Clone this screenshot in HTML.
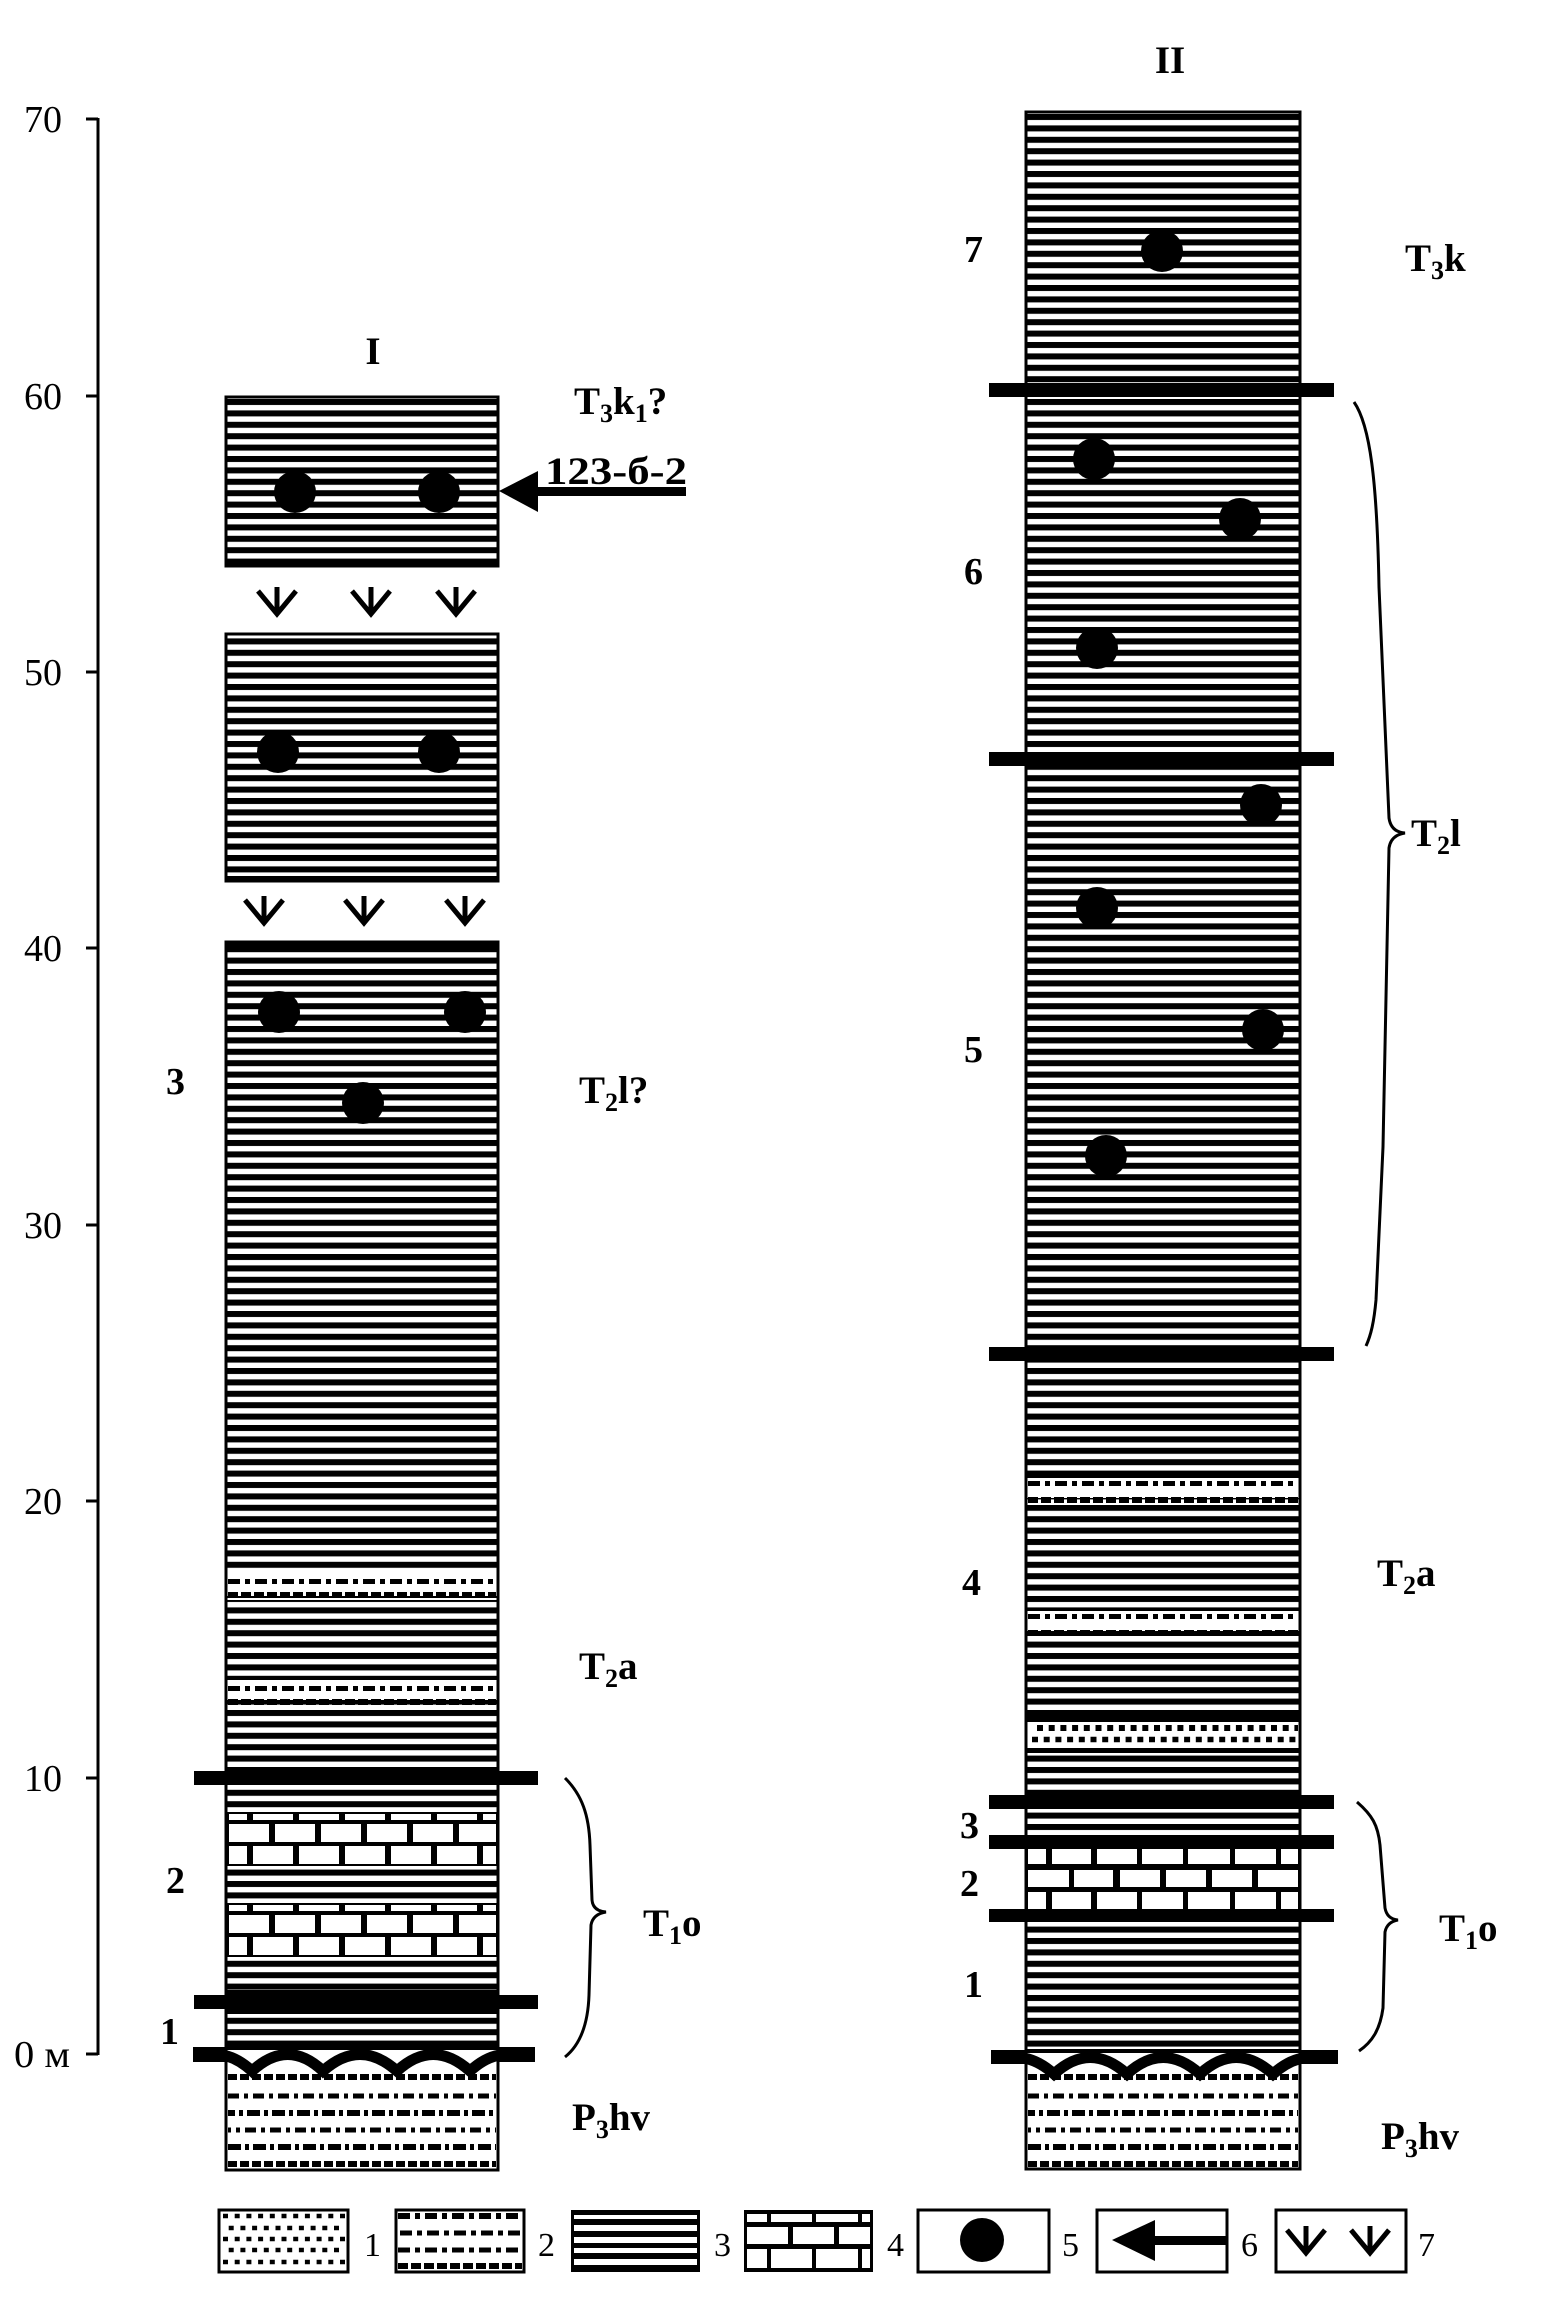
<!DOCTYPE html>
<html><head><meta charset="utf-8"><style>
html,body{margin:0;padding:0;background:#fff}
svg{display:block}
.ax{font-family:"Liberation Serif",serif;font-size:38px;fill:#000}
.b{font-family:"Liberation Serif",serif;font-weight:bold;font-size:39px;fill:#000}
.n{font-family:"Liberation Serif",serif;font-weight:bold;font-size:38px;fill:#000}
.lg{font-family:"Liberation Serif",serif;font-size:34px;fill:#000}
</style></head><body>
<svg width="1547" height="2309" viewBox="0 0 1547 2309" xmlns="http://www.w3.org/2000/svg">
<defs>
<pattern id="hat" patternUnits="userSpaceOnUse" width="40" height="11.4"><rect width="40" height="6" fill="#000"/></pattern>
<clipPath id="c1"><rect x="226" y="2040" width="272" height="45"/></clipPath>
<clipPath id="c2"><rect x="1026" y="2043" width="274" height="45"/></clipPath>
<g id="vv" fill="none" stroke="#000" stroke-width="5" stroke-linejoin="miter">
<polyline points="-19,-11 0,12 19,-11"/><line x1="0" y1="-15" x2="0" y2="12"/></g>
</defs>

<!-- axis -->
<g stroke="#000" stroke-width="3">
<line x1="98" y1="118" x2="98" y2="2055"/>
<line x1="86" y1="119" x2="98" y2="119"/>
<line x1="86" y1="396" x2="98" y2="396"/>
<line x1="86" y1="672" x2="98" y2="672"/>
<line x1="86" y1="948" x2="98" y2="948"/>
<line x1="86" y1="1225" x2="98" y2="1225"/>
<line x1="86" y1="1501" x2="98" y2="1501"/>
<line x1="86" y1="1778" x2="98" y2="1778"/>
<line x1="86" y1="2054" x2="98" y2="2054"/>
</g>
<g class="ax" text-anchor="end">
<text x="62" y="132">70</text>
<text x="62" y="409">60</text>
<text x="62" y="685">50</text>
<text x="62" y="961">40</text>
<text x="62" y="1238">30</text>
<text x="62" y="1514">20</text>
<text x="62" y="1791">10</text>
</g>
<text class="ax" x="14" y="2067" textLength="56" lengthAdjust="spacingAndGlyphs">0 м</text>

<!-- ================= COLUMN I ================= -->
<rect x="226" y="397" width="272" height="169" fill="#fff"/>
<rect x="226" y="397" width="272" height="169" fill="url(#hat)"/>
<rect x="226" y="561" width="272" height="5" fill="#000"/>
<rect x="226" y="397" width="272" height="169" fill="none" stroke="#000" stroke-width="3"/>
<circle cx="295" cy="492" r="21"/><circle cx="439" cy="492" r="21"/>
<use href="#vv" x="277" y="602"/><use href="#vv" x="371" y="602"/><use href="#vv" x="456" y="602"/>
<rect x="226" y="634" width="272" height="247" fill="#fff"/>
<rect x="226" y="634" width="272" height="247" fill="url(#hat)"/>
<rect x="226" y="876" width="272" height="5" fill="#000"/>
<rect x="226" y="634" width="272" height="247" fill="none" stroke="#000" stroke-width="3"/>
<circle cx="278" cy="752" r="21"/><circle cx="439" cy="752" r="21"/>
<use href="#vv" x="264" y="911"/><use href="#vv" x="364" y="911"/><use href="#vv" x="465" y="911"/>
<rect x="226" y="942" width="272" height="1228" fill="#fff"/>
<rect x="226" y="942" width="272" height="1105" fill="url(#hat)"/>
<rect x="226" y="942" width="272" height="7" fill="#000"/>
<g>
<rect x="227" y="1573" width="270" height="20" fill="#fff"/>
<line x1="228" y1="1581.5" x2="496" y2="1581.5" stroke="#000" stroke-width="5" stroke-dasharray="12 5 5 5"/>
<line x1="228" y1="1595" x2="496" y2="1595" stroke="#000" stroke-width="6" stroke-dasharray="10 3"/>
<rect x="227" y="1598" width="270" height="2" fill="#fff"/>
<rect x="227" y="1680" width="270" height="20" fill="#fff"/>
<line x1="228" y1="1688.5" x2="496" y2="1688.5" stroke="#000" stroke-width="5" stroke-dasharray="12 5 5 5"/>
<line x1="228" y1="1702" x2="496" y2="1702" stroke="#000" stroke-width="6" stroke-dasharray="10 3"/>
<rect x="227" y="1705" width="270" height="2" fill="#fff"/>
</g>
<rect x="226" y="1812" width="272" height="54" fill="#000"/>
<g fill="#fff">
<rect x="229" y="1814" width="18" height="6"/><rect x="253" y="1814" width="40" height="6"/><rect x="299" y="1814" width="40" height="6"/><rect x="345" y="1814" width="40" height="6"/><rect x="391" y="1814" width="40" height="6"/><rect x="437" y="1814" width="40" height="6"/><rect x="483" y="1814" width="13" height="6"/>
<rect x="229" y="1824" width="40" height="18"/><rect x="275" y="1824" width="40" height="18"/><rect x="321" y="1824" width="40" height="18"/><rect x="367" y="1824" width="40" height="18"/><rect x="413" y="1824" width="40" height="18"/><rect x="459" y="1824" width="37" height="18"/>
<rect x="229" y="1846" width="18" height="18"/><rect x="253" y="1846" width="40" height="18"/><rect x="299" y="1846" width="40" height="18"/><rect x="345" y="1846" width="40" height="18"/><rect x="391" y="1846" width="40" height="18"/><rect x="437" y="1846" width="40" height="18"/><rect x="483" y="1846" width="13" height="18"/>
</g>
<rect x="226" y="1903" width="272" height="54" fill="#000"/>
<g fill="#fff">
<rect x="229" y="1905" width="18" height="6"/><rect x="253" y="1905" width="40" height="6"/><rect x="299" y="1905" width="40" height="6"/><rect x="345" y="1905" width="40" height="6"/><rect x="391" y="1905" width="40" height="6"/><rect x="437" y="1905" width="40" height="6"/><rect x="483" y="1905" width="13" height="6"/>
<rect x="229" y="1915" width="40" height="18"/><rect x="275" y="1915" width="40" height="18"/><rect x="321" y="1915" width="40" height="18"/><rect x="367" y="1915" width="40" height="18"/><rect x="413" y="1915" width="40" height="18"/><rect x="459" y="1915" width="37" height="18"/>
<rect x="229" y="1937" width="18" height="18"/><rect x="253" y="1937" width="40" height="18"/><rect x="299" y="1937" width="40" height="18"/><rect x="345" y="1937" width="40" height="18"/><rect x="391" y="1937" width="40" height="18"/><rect x="437" y="1937" width="40" height="18"/><rect x="483" y="1937" width="13" height="18"/>
</g>
<rect x="226" y="1990" width="272" height="24" fill="#000"/>
<rect x="194" y="1771" width="344" height="14" fill="#000"/>
<rect x="194" y="1995" width="344" height="14" fill="#000"/>
<rect x="227" y="2049" width="270" height="120" fill="#fff"/>
<g stroke="#000" fill="none">
<line x1="228" y1="2077" x2="496" y2="2077" stroke-width="6" stroke-dasharray="9 3"/>
<line x1="228" y1="2096" x2="496" y2="2096" stroke-width="5" stroke-dasharray="11 5 4 5"/>
<line x1="228" y1="2113" x2="496" y2="2113" stroke-width="6" stroke-dasharray="13 4 4 4" stroke-dashoffset="6"/>
<line x1="228" y1="2130" x2="496" y2="2130" stroke-width="5" stroke-dasharray="11 5 4 5" stroke-dashoffset="8"/>
<line x1="228" y1="2147" x2="496" y2="2147" stroke-width="6" stroke-dasharray="13 4 4 4"/>
<line x1="228" y1="2164" x2="496" y2="2164" stroke-width="6" stroke-dasharray="9 3"/>
</g>
<rect x="226" y="2046" width="272" height="4" fill="#000"/>
<path d="M180 2071 Q216 2038 252 2071 Q288 2038 323 2071 Q360 2038 397 2071 Q433 2038 470 2071 Q506 2038 542 2071" fill="none" stroke="#000" stroke-width="11" clip-path="url(#c1)"/>
<rect x="193" y="2047" width="33" height="15" fill="#000"/>
<rect x="498" y="2047" width="37" height="15" fill="#000"/>
<rect x="226" y="942" width="272" height="1228" fill="none" stroke="#000" stroke-width="3"/>
<circle cx="279" cy="1012" r="21"/><circle cx="465" cy="1012" r="21"/><circle cx="363" cy="1103" r="21"/>

<rect x="536" y="487" width="150" height="9" fill="#000"/>
<polygon points="499,491 538,471 538,512" fill="#000"/>

<text class="b" x="373" y="364" text-anchor="middle">I</text>
<text class="b" x="574" y="414">T<tspan font-size="26" dy="8">3</tspan><tspan dy="-8">k</tspan><tspan font-size="26" dy="8">1</tspan><tspan dy="-8">?</tspan></text>
<text class="b" x="545" y="484" textLength="142" lengthAdjust="spacingAndGlyphs">123-б-2</text>
<text class="n" x="166" y="1094">3</text>
<text class="b" x="579" y="1103">T<tspan font-size="26" dy="8">2</tspan><tspan dy="-8">l?</tspan></text>
<text class="b" x="579" y="1679">T<tspan font-size="26" dy="8">2</tspan><tspan dy="-8">a</tspan></text>
<text class="n" x="166" y="1893">2</text>
<text class="b" x="643" y="1936">T<tspan font-size="26" dy="8">1</tspan><tspan dy="-8">o</tspan></text>
<text class="n" x="160" y="2044">1</text>
<text class="b" x="572" y="2130">P<tspan font-size="26" dy="8">3</tspan><tspan dy="-8">hv</tspan></text>
<path d="M565 1778 C582 1795 589 1815 590 1845 L592 1900 Q593 1911 606 1912 Q593 1914 591 1925 L589 1995 C588 2025 580 2045 565 2057" fill="none" stroke="#000" stroke-width="3"/>

<!-- ================= COLUMN II ================= -->
<rect x="1026" y="112" width="274" height="2057" fill="#fff"/>
<rect x="1026" y="112" width="274" height="1938" fill="url(#hat)"/>
<rect x="1027" y="1476" width="272" height="22" fill="#fff"/>
<rect x="1027" y="1476" width="272" height="2" fill="#000"/>
<line x1="1028" y1="1483.5" x2="1298" y2="1483.5" stroke="#000" stroke-width="5" stroke-dasharray="12 5 5 5"/>
<line x1="1028" y1="1500" x2="1298" y2="1500" stroke="#000" stroke-width="6" stroke-dasharray="10 3"/>
<rect x="1027" y="1503" width="272" height="2" fill="#fff"/>
<rect x="1027" y="1609" width="272" height="22" fill="#fff"/>
<rect x="1027" y="1609" width="272" height="2" fill="#000"/>
<line x1="1028" y1="1616.5" x2="1298" y2="1616.5" stroke="#000" stroke-width="5" stroke-dasharray="12 5 5 5"/>
<line x1="1028" y1="1633" x2="1298" y2="1633" stroke="#000" stroke-width="6" stroke-dasharray="10 3"/>
<rect x="1027" y="1636" width="272" height="2" fill="#fff"/>
<rect x="1026" y="1715" width="274" height="7" fill="#000"/>
<rect x="1027" y="1722" width="272" height="26" fill="#fff"/>
<rect x="1026" y="1748" width="274" height="5" fill="#000"/>
<line x1="1037" y1="1728" x2="1298" y2="1728" stroke="#000" stroke-width="6" stroke-dasharray="6 5.7"/>
<line x1="1032" y1="1739.5" x2="1298" y2="1739.5" stroke="#000" stroke-width="5.5" stroke-dasharray="6 5.7"/>
<rect x="1026" y="1849" width="274" height="60" fill="#000"/>
<g fill="#fff">
<rect x="1028" y="1849" width="18" height="15"/><rect x="1052" y="1849" width="39" height="15"/><rect x="1097" y="1849" width="40" height="15"/><rect x="1142" y="1849" width="41" height="15"/><rect x="1188" y="1849" width="42" height="15"/><rect x="1235" y="1849" width="41" height="15"/><rect x="1281" y="1849" width="17" height="15"/>
<rect x="1028" y="1870" width="41" height="17"/><rect x="1074" y="1870" width="39" height="17"/><rect x="1120" y="1870" width="40" height="17"/><rect x="1166" y="1870" width="40" height="17"/><rect x="1212" y="1870" width="40" height="17"/><rect x="1258" y="1870" width="40" height="17"/>
<rect x="1028" y="1892" width="18" height="17"/><rect x="1052" y="1892" width="39" height="17"/><rect x="1097" y="1892" width="40" height="17"/><rect x="1142" y="1892" width="41" height="17"/><rect x="1188" y="1892" width="42" height="17"/><rect x="1235" y="1892" width="41" height="17"/><rect x="1281" y="1892" width="17" height="17"/>
</g>
<g fill="#000">
<rect x="989" y="383" width="345" height="14"/>
<rect x="989" y="752" width="345" height="14"/>
<rect x="989" y="1347" width="345" height="14"/>
<rect x="989" y="1795" width="345" height="14"/>
<rect x="989" y="1835" width="345" height="14"/>
<rect x="989" y="1909" width="345" height="13"/>
</g>
<rect x="1027" y="2052" width="272" height="117" fill="#fff"/>
<g stroke="#000" fill="none">
<line x1="1028" y1="2077" x2="1298" y2="2077" stroke-width="6" stroke-dasharray="9 3"/>
<line x1="1028" y1="2096" x2="1298" y2="2096" stroke-width="5" stroke-dasharray="11 5 4 5"/>
<line x1="1028" y1="2113" x2="1298" y2="2113" stroke-width="6" stroke-dasharray="13 4 4 4" stroke-dashoffset="6"/>
<line x1="1028" y1="2130" x2="1298" y2="2130" stroke-width="5" stroke-dasharray="11 5 4 5" stroke-dashoffset="8"/>
<line x1="1028" y1="2147" x2="1298" y2="2147" stroke-width="6" stroke-dasharray="13 4 4 4"/>
<line x1="1028" y1="2164" x2="1298" y2="2164" stroke-width="6" stroke-dasharray="9 3"/>
</g>
<rect x="1026" y="2049" width="274" height="4" fill="#000"/>
<path d="M981 2074 Q1017 2041 1054 2074 Q1090 2041 1127 2074 Q1163 2041 1200 2074 Q1236 2041 1273 2074 Q1310 2041 1346 2074" fill="none" stroke="#000" stroke-width="11" clip-path="url(#c2)"/>
<rect x="991" y="2050" width="35" height="14" fill="#000"/>
<rect x="1300" y="2050" width="38" height="14" fill="#000"/>
<rect x="1026" y="112" width="274" height="2057" fill="none" stroke="#000" stroke-width="3"/>
<circle cx="1162" cy="251" r="21"/><circle cx="1094" cy="459" r="21"/><circle cx="1240" cy="519" r="21"/>
<circle cx="1097" cy="648" r="21"/><circle cx="1261" cy="805" r="21"/><circle cx="1097" cy="908" r="21"/>
<circle cx="1263" cy="1030" r="21"/><circle cx="1106" cy="1156" r="21"/>

<text class="b" x="1170" y="73" text-anchor="middle">II</text>
<text class="n" x="964" y="262">7</text>
<text class="b" x="1405" y="271">T<tspan font-size="26" dy="8">3</tspan><tspan dy="-8">k</tspan></text>
<text class="n" x="964" y="584">6</text>
<text class="b" x="1411" y="846">T<tspan font-size="26" dy="8">2</tspan><tspan dy="-8">l</tspan></text>
<text class="n" x="964" y="1062">5</text>
<text class="n" x="962" y="1595">4</text>
<text class="b" x="1377" y="1586">T<tspan font-size="26" dy="8">2</tspan><tspan dy="-8">a</tspan></text>
<text class="n" x="960" y="1838">3</text>
<text class="n" x="960" y="1896">2</text>
<text class="n" x="964" y="1997">1</text>
<text class="b" x="1439" y="1941">T<tspan font-size="26" dy="8">1</tspan><tspan dy="-8">o</tspan></text>
<text class="b" x="1381" y="2149">P<tspan font-size="26" dy="8">3</tspan><tspan dy="-8">hv</tspan></text>
<path d="M1354 402 C1370 425 1377 480 1379 587 L1389 818 Q1391 832 1405 833 Q1391 835 1389 848 L1383 1147 L1376 1300 C1374 1322 1371 1335 1366 1346" fill="none" stroke="#000" stroke-width="3"/>
<path d="M1357 1802 C1372 1815 1378 1825 1380 1845 L1385 1908 Q1387 1919 1398 1920 Q1387 1922 1385 1932 L1383 2008 C1380 2030 1372 2042 1359 2051" fill="none" stroke="#000" stroke-width="3"/>

<!-- ================= LEGEND ================= -->
<rect x="219" y="2210" width="129" height="62" fill="#fff"/>
<g stroke="#000" stroke-width="4.5">
<line x1="223" y1="2216" x2="345" y2="2216" stroke-dasharray="5 6.7"/>
<line x1="223" y1="2228" x2="345" y2="2228" stroke-dasharray="5 6.7" stroke-dashoffset="6"/>
<line x1="223" y1="2239" x2="345" y2="2239" stroke-dasharray="5 6.7"/>
<line x1="223" y1="2250" x2="345" y2="2250" stroke-dasharray="5 6.7" stroke-dashoffset="6"/>
<line x1="223" y1="2262" x2="345" y2="2262" stroke-dasharray="5 6.7"/>
</g>
<rect x="219" y="2210" width="129" height="62" fill="none" stroke="#000" stroke-width="3"/>
<text class="lg" x="364" y="2256">1</text>
<rect x="396" y="2210" width="128" height="62" fill="#fff"/>
<g stroke="#000" fill="none">
<line x1="398" y1="2216" x2="522" y2="2216" stroke-width="6" stroke-dasharray="12 5 5 5"/>
<line x1="398" y1="2233" x2="522" y2="2233" stroke-width="5" stroke-dasharray="5 5 12 5" stroke-dashoffset="8"/>
<line x1="398" y1="2250" x2="522" y2="2250" stroke-width="5" stroke-dasharray="12 5 5 5"/>
<line x1="398" y1="2266" x2="522" y2="2266" stroke-width="6" stroke-dasharray="10 3"/>
</g>
<rect x="396" y="2210" width="128" height="62" fill="none" stroke="#000" stroke-width="3"/>
<text class="lg" x="538" y="2256">2</text>
<rect x="571" y="2210" width="129" height="62" fill="#000"/>
<g fill="#fff">
<rect x="574" y="2215" width="123" height="4"/>
<rect x="574" y="2225" width="123" height="6"/>
<rect x="574" y="2237" width="123" height="6"/>
<rect x="574" y="2248" width="123" height="5"/>
<rect x="574" y="2259" width="123" height="6"/>
</g>
<text class="lg" x="714" y="2256">3</text>
<rect x="744" y="2210" width="129" height="62" fill="#000"/>
<g fill="#fff">
<rect x="747" y="2214" width="20" height="8"/><rect x="771" y="2214" width="41" height="8"/><rect x="816" y="2214" width="42" height="8"/><rect x="862" y="2214" width="8" height="8"/>
<rect x="747" y="2227" width="41" height="17"/><rect x="793" y="2227" width="41" height="17"/><rect x="839" y="2227" width="31" height="17"/>
<rect x="747" y="2249" width="20" height="19"/><rect x="771" y="2249" width="41" height="19"/><rect x="816" y="2249" width="42" height="19"/><rect x="862" y="2249" width="8" height="19"/>
</g>
<text class="lg" x="887" y="2256">4</text>
<rect x="918" y="2210" width="131" height="62" fill="#fff" stroke="#000" stroke-width="3"/>
<circle cx="982" cy="2240" r="22"/>
<text class="lg" x="1062" y="2256">5</text>
<rect x="1097" y="2210" width="130" height="62" fill="#fff" stroke="#000" stroke-width="3"/>
<polygon points="1112,2240 1155,2220 1155,2261" fill="#000"/>
<rect x="1153" y="2236" width="74" height="9" fill="#000"/>
<text class="lg" x="1241" y="2256">6</text>
<rect x="1276" y="2210" width="130" height="62" fill="#fff" stroke="#000" stroke-width="3"/>
<use href="#vv" x="1306" y="2241"/><use href="#vv" x="1370" y="2241"/>
<text class="lg" x="1418" y="2256">7</text>
</svg>
</body></html>
